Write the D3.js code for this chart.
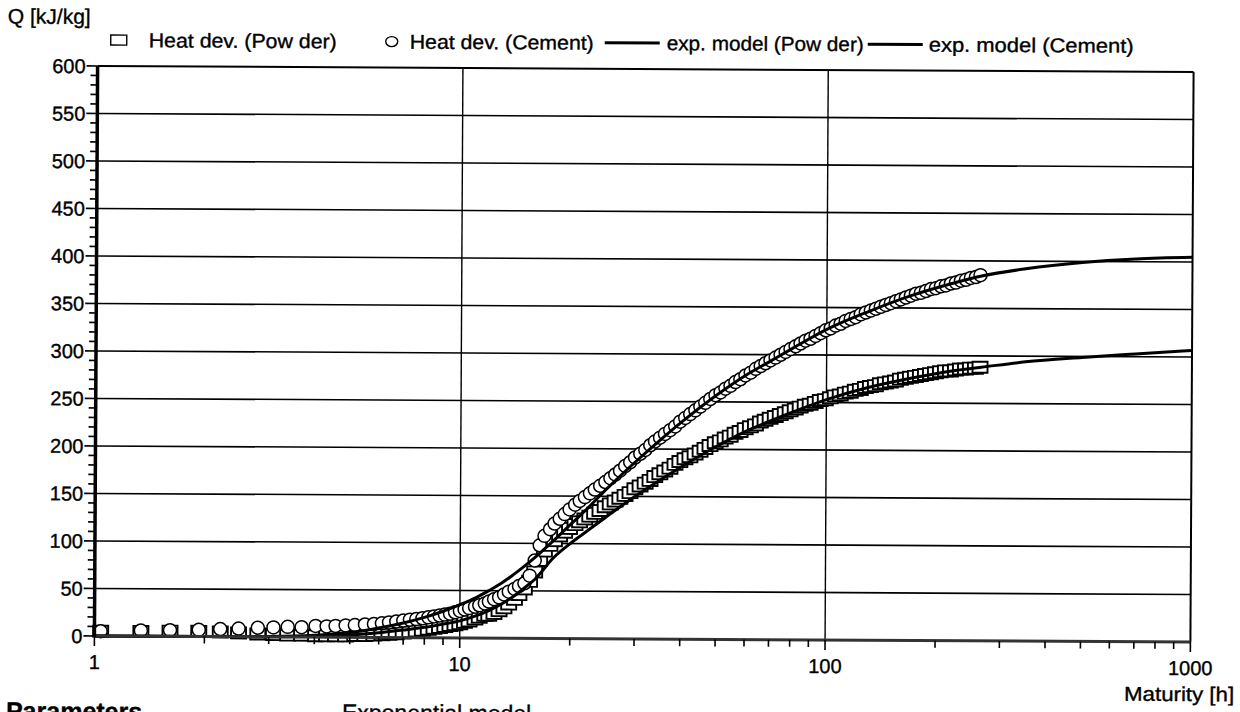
<!DOCTYPE html>
<html><head><meta charset="utf-8">
<script src="https://cdn.jsdelivr.net/npm/d3@7"></script>
<style>
body{margin:0;background:#fff}
svg{display:block}
text{font-family:"Liberation Sans",Arial,sans-serif;fill:#000;stroke:#000;stroke-width:0.35px}
</style>
</head><body>
<svg id="c" width="1240" height="712"></svg>
<script>
// ---------- data ----------
const maturity = [1.04,1.34,1.61,1.93,2.21,2.48,2.8,3.09,3.38,3.69,4.03,4.32,4.57,4.87,5.16,5.5,5.82,6.12,6.4,6.7,7.0,7.3,7.6,7.9,8.2,8.5,8.8,9.1,9.4,9.7,10.0,
 10.3,10.6,11.0,11.3,11.7,12.0,12.4,12.8,13.2,13.6,14.1,14.5,15.0,15.5,16.0,16.5,17.0,17.6,18.1,18.7,19.3,19.9,
 20.6,21.2,21.9,22.6,23.3,24.1,24.9,25.7,26.5,27.3,28.2,29.1,30.0,31,32,33,34,35.1,36.2,37.4,38.6,39.8,
 41.1,42.4,43.8,45.2,46.6,48.1,49.7,51.3,52.9,54.6,56.3,58.1,60,62,64,66,68,70.2,72.5,74.8,77.2,79.6,
 82.2,84.8,87.5,90.3,93.2,96.2,99.3,102.5,105.7,109.1,112.6,116.2,119.9,123.8,127.8,131.9,136.1,140.4,144.9,149.6,154.4,159.3,
 164.4,169.7,175.1,180.7,186.5,192.5,198.6,205,211.5,218.3,225.3,232.5,240,247.6,255.5,263];
const heatCement = [5,6,6.4,7,8,8.6,9.6,10,10.7,10.4,11.8,11.4,12,12.5,13,13.6,14.2,15,16,17,18,19,19.6,20.5,21.5,22.5,23.5,24.5,25.5,27,28.5,
 30,31.5,33,34.5,36.5,38.5,41,43,46,49,52,55,58,66,82,98,108,115,121,126,131,136,
 141,145,149,153,157,161,165,169,173,177,182,186,191,195,199,204,208,212,216,220,224,229,
 233,237,241,245,249,253,257,260,264,267,271,274,278,281,285,288,291,294,297,300,303,306,
 309,312,315,317,320,323,326,328,331,333,336,338,340,343,345,347,349,351,353,355,357,359,
 361,363,365,366,368,370,371,373,374,376,377,379,380,382,383,385];
const heatPowder = [5,5,5.5,5.5,5,4,3,2.5,2,2,1.5,1.5,1.5,1.5,2,2,2.5,3,3.5,4,5,6,7,8,9,10,11,12,13,14,15,
 16.5,18,20,22,24,24,26,29,32,36,41,46,52,60,70,82,92,98,103,108,112,116,
 120,123,126,129,132,135,139,142,145,148,151,154,158,161,164,167,171,174,177,180,184,187,
 190,192,195,198,201,204,207,209,212,214,217,219,222,224,226,229,231,233,235,237,239,241,
 243,245,247,248,250,252,253,255,257,258,260,261,263,264,266,267,268,270,271,272,273,275,
 276,277,278,279,280,281,282,283,284,284,285,286,286,287,287,288];
const modelMaturity = [1,2,3,4,5,6,7,8,9,10,11,12,13,14,15,16,18,20,22,25,30,35,40,50,60,70,80,100,130,170,220,265,350,500,700,1000];
const modelCement = [0,0,0.5,2,5,10,15.5,21.5,28,35,42,50,58,67,76,85,103,120,135,157,186,209,228,257,278,293,306,327,346,363,376,384,392,399,403,405];
const modelPowder = [0,0,0.2,1,2.5,5,8,11,14.5,18,23,29,36,44,53,62,85,100,112,128,150,167,181,203,219,230,239,253,266,276,284,288,294,299,303,307];
const yTickValues = [0,50,100,150,200,250,300,350,400,450,500,550,600];
const xTickValues = [1,10,100,1000];
const xTickLabels = ["1","10","100","1000"];
const legendLabels = ["Heat dev. (Pow der)","Heat dev. (Cement)","exp. model (Pow der)","exp. model (Cement)"];

// ---------- layout ----------
const svg = d3.select('#c');
svg.append('rect').attr('width',1240).attr('height',712).attr('fill','#fff');
const g = svg.append('g').attr('transform','rotate(0.32 644 354)');
const L=96, R=1192, T=69, B=639;
const x = d3.scaleLog().domain([1,1000]).range([L,R]);
const y = d3.scaleLinear().domain([0,600]).range([B,T]);

// grid
g.append('g').selectAll('line').data(yTickValues.filter(v=>v>0&&v<600)).join('line')
 .attr('x1',L).attr('x2',R).attr('y1',d=>y(d)).attr('y2',d=>y(d))
 .attr('stroke','#000').attr('stroke-width',1.6);
g.append('g').selectAll('line').data(xTickValues.filter(v=>v>1&&v<1000)).join('line')
 .attr('y1',T).attr('y2',B).attr('x1',d=>x(d)).attr('x2',d=>x(d))
 .attr('stroke','#000').attr('stroke-width',1.4);

// markers
const pts = maturity.map((t,i)=>({t,c:heatCement[i],p:heatPowder[i]}));
g.append('g').selectAll('rect').data(pts).join('rect')
 .attr('x',d=>x(d.t)-7.5).attr('y',d=>y(d.p)-5.5).attr('width',15).attr('height',11)
 .attr('fill','#fff').attr('stroke','#000').attr('stroke-width',1.9);
g.append('g').selectAll('circle').data(pts).join('circle')
 .attr('cx',d=>x(d.t)).attr('cy',d=>y(d.c)).attr('r',6.5)
 .attr('fill','#fff').attr('stroke','#000').attr('stroke-width',1.5);

// model lines
const line = d3.line().x(d=>x(d[0])).y(d=>y(d[1])).curve(d3.curveMonotoneX);
[modelPowder, modelCement].forEach(arr=>{
  g.append('path').attr('d',line(modelMaturity.map((t,i)=>[t,arr[i]])))
   .attr('fill','none').attr('stroke','#000').attr('stroke-width',3);
});

// frame
g.append('line').attr('x1',L).attr('x2',R).attr('y1',T).attr('y2',T).attr('stroke','#000').attr('stroke-width',2);
g.append('line').attr('x1',R).attr('x2',R).attr('y1',T).attr('y2',B).attr('stroke','#000').attr('stroke-width',2);
g.append('line').attr('x1',L).attr('x2',R).attr('y1',B).attr('y2',B).attr('stroke','#333').attr('stroke-width',3);
g.append('line').attr('x1',L).attr('x2',L).attr('y1',T).attr('y2',B+1).attr('stroke','#000').attr('stroke-width',3.5);

// y ticks
const yMinor = d3.range(0,601,10).filter(v=>v%50!==0);
g.append('g').selectAll('line').data(yMinor).join('line')
 .attr('x1',L-7).attr('x2',L).attr('y1',d=>y(d)).attr('y2',d=>y(d))
 .attr('stroke','#000').attr('stroke-width',1.6);
g.append('g').selectAll('line').data(yTickValues).join('line')
 .attr('x1',L-11).attr('x2',L).attr('y1',d=>y(d)).attr('y2',d=>y(d))
 .attr('stroke','#000').attr('stroke-width',1.6);
g.append('g').selectAll('text').data(yTickValues).join('text')
 .attr('x',L-12).attr('y',d=>y(d)).attr('dy','0.36em').attr('text-anchor','end')
 .attr('font-size',20).text(d=>d);

// x ticks
const xMinor = [];
[1,10,100].forEach(d=>{for(let k=2;k<=9;k++) xMinor.push(d*k);});
g.append('g').selectAll('line').data(xMinor).join('line')
 .attr('x1',d=>x(d)).attr('x2',d=>x(d)).attr('y1',B).attr('y2',B+7)
 .attr('stroke','#000').attr('stroke-width',1.6);
g.append('g').selectAll('line').data(xTickValues).join('line')
 .attr('x1',d=>x(d)).attr('x2',d=>x(d)).attr('y1',B).attr('y2',B+10)
 .attr('stroke','#000').attr('stroke-width',1.6);
g.append('g').selectAll('text').data(xTickValues).join('text')
 .attr('x',d=>x(d)).attr('y',B+33).attr('text-anchor','middle')
 .attr('font-size',20).text((d,i)=>xTickLabels[i]);

// axis titles
g.append('text').attr('x',6).attr('y',27).attr('font-size',21).text('Q [kJ/kg]');
g.append('text').attr('x',1236).attr('y',698).attr('font-size',20).attr('text-anchor','end')
 .attr('textLength',110).attr('lengthAdjust','spacingAndGlyphs').text('Maturity [h]');

// legend
const LY = 50;
const stretch = (sel,len)=>sel.attr('textLength',len).attr('lengthAdjust','spacingAndGlyphs');
g.append('rect').attr('x',109).attr('y',LY-12).attr('width',16).attr('height',10)
 .attr('fill','#fff').attr('stroke','#000').attr('stroke-width',1.4);
stretch(g.append('text').attr('x',147).attr('y',LY).attr('font-size',20).text(legendLabels[0]),188);
g.append('ellipse').attr('cx',390).attr('cy',LY-7).attr('rx',6).attr('ry',5)
 .attr('fill','#fff').attr('stroke','#000').attr('stroke-width',1.4);
stretch(g.append('text').attr('x',408).attr('y',LY).attr('font-size',20).text(legendLabels[1]),184);
g.append('line').attr('x1',603).attr('x2',658).attr('y1',LY-7).attr('y2',LY-7).attr('stroke','#000').attr('stroke-width',3);
stretch(g.append('text').attr('x',665).attr('y',LY).attr('font-size',20).text(legendLabels[2]),197);
g.append('line').attr('x1',866).attr('x2',921).attr('y1',LY-7).attr('y2',LY-7).attr('stroke','#000').attr('stroke-width',3);
stretch(g.append('text').attr('x',927).attr('y',LY).attr('font-size',20).text(legendLabels[3]),205);

// texts cut by the bottom edge, as in the reference
g.append('text').attr('x',8).attr('y',723).attr('font-size',25).attr('font-weight','bold').text('Parameters');
g.append('text').attr('x',344).attr('y',722).attr('font-size',23).text('Exponential model');
</script>
</body></html>
